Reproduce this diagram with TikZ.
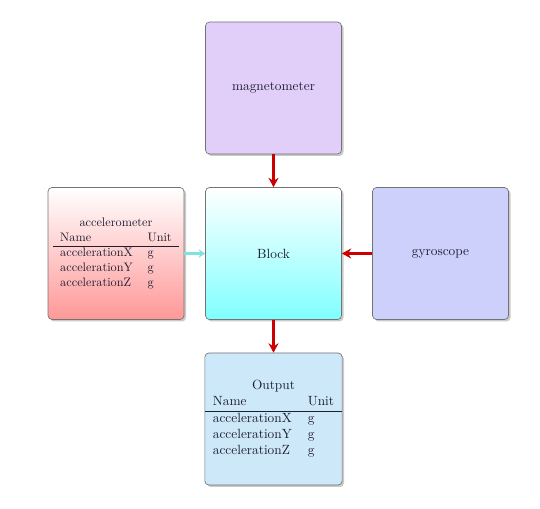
\documentclass[tikz,border=0pt]{standalone}
\usetikzlibrary{shadows,arrows.meta}
\definecolor{magfill}{RGB}{225,206,249}
\definecolor{gyrofill}{RGB}{204,208,250}
\definecolor{outfill}{RGB}{205,232,248}
\definecolor{blockbot}{RGB}{128,255,255}
\definecolor{accbot}{RGB}{255,152,152}
\definecolor{arrred}{RGB}{204,0,0}
\definecolor{arrcyan}{RGB}{128,226,222}
\definecolor{txt}{RGB}{30,30,50}
\tikzset{
  box/.style={draw=black!55, line width=0.5pt, rounded corners=3pt,
    minimum width=102pt, minimum height=99pt, inner sep=0pt,
    drop shadow={shadow xshift=1.5pt, shadow yshift=-1.5pt, opacity=0.35, fill=black!60},
    text=txt, align=center},
  conn/.style={draw=arrred, line width=2pt, -{Stealth[length=7pt,width=7.5pt]}},
  connc/.style={draw=arrcyan, line width=2.2pt, -{Stealth[length=5pt,width=6.5pt]}}
}
\begin{document}
\begin{tikzpicture}[x=0.75pt,y=-0.75pt]
\useasboundingbox (0,0) rectangle (540,509);
\node[box, fill=magfill] (mag) at (273.5,88) {magnetometer};
\node[box, top color=white, bottom color=blockbot] (blk) at (273.5,253.5) {Block};
\node[box, top color=white, bottom color=accbot] (acc) at (116,253.5) {%
  \scalebox{0.92}{\begin{tabular}{ll}
  \multicolumn{2}{c}{accelerometer}\\
  Name & Unit\\ \hline
  accelerationX & g\\
  accelerationY & g\\
  accelerationZ & g
  \end{tabular}}};
\node[box, fill=gyrofill] (gyr) at (440.5,253.5) {gyroscope};
\node[box, fill=outfill] (out) at (273.5,419) {%
  \begin{tabular}{ll}
  \multicolumn{2}{c}{Output}\\
  Name & Unit\\ \hline
  accelerationX & g\\
  accelerationY & g\\
  accelerationZ & g
  \end{tabular}};
\draw[conn] (mag) -- (blk);
\draw[conn] (gyr) -- (blk);
\draw[conn] (blk) -- (out);
\draw[connc] (acc) -- (blk);
\end{tikzpicture}
\end{document}
